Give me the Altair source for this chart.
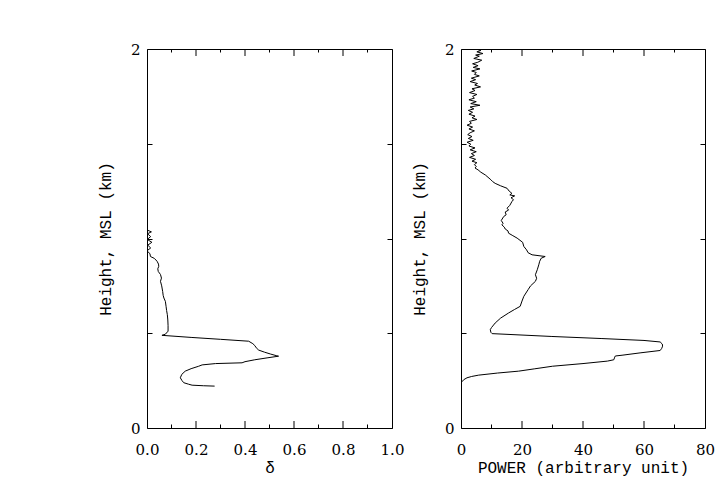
import altair as alt
import pandas as pd

# ---- Left panel: delta profile (height km, delta), listed top to bottom ----
delta_height = [1.045, 1.035, 1.025, 1.010, 0.995, 0.980, 0.965, 0.950, 0.935, 0.920,
                0.905, 0.895, 0.880, 0.865, 0.853, 0.840, 0.826, 0.810, 0.791, 0.774,
                0.750, 0.720, 0.700, 0.686, 0.668, 0.640, 0.620, 0.598, 0.570, 0.540,
                0.511, 0.495, 0.489, 0.478, 0.468, 0.458, 0.445, 0.435, 0.423, 0.411,
                0.400, 0.390, 0.381, 0.379, 0.370, 0.360, 0.350, 0.344, 0.340, 0.333,
                0.326, 0.313, 0.300, 0.283, 0.265, 0.250, 0.239, 0.231, 0.226, 0.223,
                0.221]
delta_value = [0.000, 0.018, 0.002, 0.015, 0.001, 0.020, 0.003, 0.015, 0.000, 0.012,
               0.014, 0.030, 0.041, 0.047, 0.048, 0.044, 0.046, 0.055, 0.059, 0.055,
               0.060, 0.064, 0.066, 0.069, 0.075, 0.078, 0.080, 0.083, 0.085, 0.086,
               0.086, 0.075, 0.061, 0.180, 0.300, 0.415, 0.432, 0.440, 0.446, 0.456,
               0.480, 0.505, 0.530, 0.537, 0.490, 0.440, 0.400, 0.388, 0.280, 0.225,
               0.211, 0.180, 0.156, 0.142, 0.136, 0.143, 0.150, 0.170, 0.184, 0.230,
               0.276]

# ---- Right panel: power profile (height km, power), listed top to bottom ----
power_height = [2.000, 1.992, 1.985, 1.976, 1.968, 1.962, 1.950, 1.941, 1.930, 1.922,
                1.912, 1.903, 1.895, 1.884, 1.876, 1.866, 1.858, 1.846, 1.838, 1.828,
                1.818, 1.810, 1.800, 1.790, 1.781, 1.770, 1.760, 1.750, 1.741, 1.732,
                1.722, 1.712, 1.703, 1.694, 1.684, 1.676, 1.666, 1.656, 1.646, 1.637,
                1.628, 1.618, 1.608, 1.598, 1.588, 1.578, 1.568, 1.558, 1.548, 1.538,
                1.528, 1.518, 1.508, 1.498, 1.488, 1.478, 1.468, 1.458, 1.448, 1.438,
                1.428, 1.418, 1.408, 1.400, 1.390, 1.380, 1.372, 1.362, 1.350, 1.335,
                1.310, 1.300, 1.291, 1.278, 1.265, 1.250, 1.238, 1.230, 1.225, 1.215,
                1.205, 1.195, 1.175, 1.160, 1.150, 1.140, 1.125, 1.116, 1.095, 1.080,
                1.072, 1.060, 1.050, 1.040, 1.028, 1.015, 1.002, 0.980,
                0.958, 0.940, 0.925, 0.914, 0.905, 0.896, 0.880, 0.861, 0.835, 0.809,
                0.790, 0.774, 0.750, 0.730, 0.695, 0.670, 0.642, 0.625, 0.607, 0.580,
                0.554, 0.530, 0.519, 0.505, 0.498, 0.483, 0.472, 0.462, 0.454, 0.443,
                0.432, 0.420, 0.409, 0.397, 0.384, 0.380, 0.374, 0.360, 0.353, 0.340,
                0.326, 0.312, 0.300, 0.290, 0.279, 0.272, 0.265, 0.255, 0.244]
power_value = [5.0, 6.5, 5.2, 7.2, 4.8, 6.0, 4.2, 6.8, 5.5, 3.8,
               5.6, 4.0, 6.2, 3.5, 5.0, 4.4, 6.0, 3.4, 4.8, 3.0,
               5.4, 4.5, 6.4, 3.6, 4.6, 2.8, 5.2, 3.8, 4.4, 2.6,
               5.0, 3.2, 6.2, 3.0, 4.2, 2.4, 3.8, 2.6, 4.6, 3.6,
               5.2, 2.8, 3.4, 2.0, 3.8, 2.6, 4.4, 3.0, 2.2, 3.6,
               2.4, 4.0, 2.0, 3.2, 2.6, 4.6, 3.0, 5.0, 3.4, 4.4,
               2.8, 4.8, 3.6, 5.2, 4.4, 5.0, 4.6, 5.6, 6.5, 8.0,
               9.8, 10.4, 11.2, 13.0, 15.1, 15.8, 16.7, 16.0, 17.6, 16.4,
               17.2, 16.7, 16.0, 15.1, 15.6, 14.5, 14.8, 14.0, 13.2, 13.8,
               13.4, 14.2, 14.5, 15.4, 15.6, 17.0, 18.4, 20.2,
               20.6, 21.5, 22.0, 23.3, 27.6, 26.3, 25.8, 25.5, 25.0, 24.4,
               24.8, 24.4, 22.8, 22.0, 20.6, 20.0, 19.4, 17.5, 15.6, 13.0,
               11.2, 10.0, 9.6, 9.8, 10.2, 29.8, 46.2, 60.0, 65.3, 66.0,
               66.1, 65.8, 65.3, 59.0, 52.8, 50.6, 50.4, 50.1, 48.0, 40.0,
               30.0, 24.0, 18.9, 12.0, 5.8, 3.5, 1.97, 0.9, 0.33]

# ---- Axis tick values ----
height_labels = [0, 1, 2]
height_ticks = [0, 0.5, 1, 1.5, 2]
delta_labels = [0.0, 0.2, 0.4, 0.6, 0.8, 1.0]
delta_major = [0.2, 0.4, 0.6, 0.8]
delta_minor = [0.1, 0.3, 0.5, 0.7, 0.9]
power_labels = [0, 20, 40, 60, 80]
power_major = [20, 40, 60]
power_minor = [10, 30, 50, 70]

LABEL_FONT = "DejaVu Serif"
TITLE_FONT = "Liberation Mono"
MAJOR = 7
MINOR = 3.5
YTICK = 5
H = 379


def tick_axis(orient, values, size):
    return alt.Axis(orient=orient, values=values, ticks=True, tickSize=size,
                    tickColor="black", tickWidth=1, offset=-size, labels=False,
                    domain=False, grid=False, title=None)


def panel(heights, values, xdom, xlabels, xfmt, xmajor, xminor, xtitle, width):
    df = pd.DataFrame({"h": heights, "v": values, "i": list(range(len(heights)))})
    xs = alt.Scale(domain=xdom, nice=False, zero=False)
    ys = alt.Scale(domain=[0, 2], nice=False, zero=False)
    base = alt.Chart(df)

    line = base.mark_line(color="black", strokeWidth=1, clip=True).encode(
        x=alt.X("v:Q", scale=xs,
                axis=alt.Axis(orient="bottom", values=xlabels, format=xfmt, ticks=False,
                              domain=False, grid=False, labelPadding=14, labelFlush=False,
                              labelOverlap=False, title=xtitle, titlePadding=2)),
        y=alt.Y("h:Q", scale=ys,
                axis=alt.Axis(orient="left", values=height_labels, format="d", ticks=False,
                              domain=False, grid=False, labelPadding=7, labelOverlap=False,
                              title="Height, MSL (km)", titlePadding=17)),
        order="i:Q",
    )

    # inward y ticks on left and right
    ghost_left = base.mark_point(opacity=0).encode(
        x=alt.X("v:Q", scale=xs, axis=None),
        y=alt.Y("h:Q", scale=ys, axis=tick_axis("left", height_ticks, YTICK)),
    )
    ghost_right = base.mark_point(opacity=0).encode(
        x=alt.X("v:Q", scale=xs, axis=None),
        y=alt.Y("h:Q", scale=ys, axis=tick_axis("right", height_ticks, YTICK)),
    )

    # inward x ticks (major and minor) on bottom and top
    def xticks(vals, length, top):
        d = pd.DataFrame({"t": vals})
        if top:
            ypos, y2pos = alt.value(0), alt.value(length)
        else:
            ypos, y2pos = alt.value(H), alt.value(H - length)
        return alt.Chart(d).mark_rule(color="black", strokeWidth=1).encode(
            x=alt.X("t:Q", scale=xs, axis=None), y=ypos, y2=y2pos)

    layers = [
        line, ghost_left, ghost_right,
        xticks(xmajor, MAJOR, False), xticks(xminor, MINOR, False),
        xticks(xmajor, MAJOR, True), xticks(xminor, MINOR, True),
    ]
    return alt.layer(*layers).resolve_axis(x="independent", y="independent").properties(
        width=width, height=H)


left = panel(delta_height, delta_value, [0, 1], delta_labels, ".1f",
             delta_major, delta_minor, "δ", 245)
right = panel(power_height, power_value, [0, 80], power_labels, "d",
              power_major, power_minor, "POWER (arbitrary unit)", 244)

chart = alt.hconcat(left, right, spacing=5).properties(
    padding={"left": 88, "top": 33, "right": 0, "bottom": 0},
    background="white",
).configure_view(
    stroke="black", strokeWidth=1
).configure_axis(
    labelFont=LABEL_FONT, labelFontSize=15, labelColor="black",
    titleFont=TITLE_FONT, titleFontSize=16, titleFontWeight="normal", titleColor="black",
)

chart.save("out.html", embed_options={"renderer": "svg", "actions": False})
